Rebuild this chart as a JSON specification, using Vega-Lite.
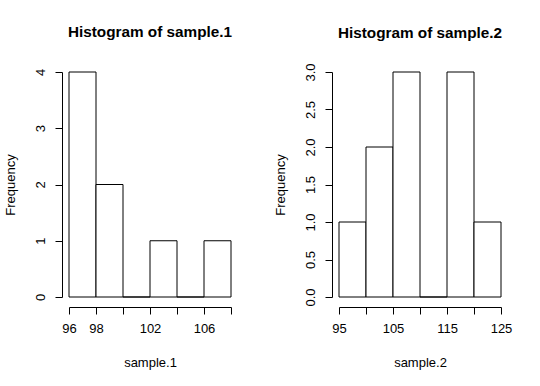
{
  "$schema": "https://vega.github.io/schema/vega-lite/v6.json",
  "padding": {"left": 4, "top": 25, "right": 5, "bottom": 5},
  "background": "white",
  "bounds": "flush",
  "spacing": 108,
  "config": {
    "font": "Liberation Sans",
    "view": {"stroke": null},
    "axis": {
      "grid": false,
      "domainColor": "black",
      "tickColor": "black",
      "labelColor": "black",
      "titleColor": "black",
      "tickSize": 7,
      "labelFontSize": 13,
      "titleFontSize": 13,
      "titleFontWeight": "normal",
      "labelFont": "Liberation Sans",
      "titleFont": "Liberation Sans"
    },
    "title": {"fontSize": 15.3, "fontWeight": "bold", "color": "black", "baseline": "alphabetic", "frame": "group", "anchor": "middle", "font": "Liberation Sans"}
  },
  "datasets": {
    "s1": [
      {"start": 96, "end": 98, "count": 4},
      {"start": 98, "end": 100, "count": 2},
      {"start": 100, "end": 102, "count": 0},
      {"start": 102, "end": 104, "count": 1},
      {"start": 104, "end": 106, "count": 0},
      {"start": 106, "end": 108, "count": 1}
    ],
    "s2": [
      {"start": 95, "end": 100, "count": 1},
      {"start": 100, "end": 105, "count": 2},
      {"start": 105, "end": 110, "count": 3},
      {"start": 110, "end": 115, "count": 0},
      {"start": 115, "end": 120, "count": 3},
      {"start": 120, "end": 125, "count": 1}
    ]
  },
  "hconcat": [
    {
      "title": {"text": "Histogram of sample.1", "offset": 28},
      "width": 162,
      "height": 225,
      "data": {"name": "s1"},
      "mark": {"type": "bar", "fill": "white", "stroke": "black", "strokeWidth": 1},
      "encoding": {
        "x": {
          "field": "start", "type": "quantitative", "title": "sample.1",
          "scale": {"domain": [96, 108], "nice": false, "zero": false},
          "axis": {"values": [96, 98, 100, 102, 104, 106, 108], "offset": 10, "labelPadding": 8, "titlePadding": 21,
                   "labelExpr": "datum.value == 100 || datum.value == 104 || datum.value == 108 ? '' : datum.label",
                   "labelFlush": false, "labelOverlap": false}
        },
        "x2": {"field": "end"},
        "y": {
          "field": "count", "type": "quantitative", "title": "Frequency",
          "scale": {"domain": [0, 4], "nice": false},
          "axis": {"values": [0, 1, 2, 3, 4], "offset": 7, "labelAngle": -90, "labelAlign": "center", "labelBaseline": "bottom", "labelPadding": 8, "titlePadding": 17, "labelFlush": false, "labelOverlap": false}
        },
        "y2": {"datum": 0}
      }
    },
    {
      "title": {"text": "Histogram of sample.2", "offset": 22},
      "width": 162,
      "height": 225,
      "data": {"name": "s2"},
      "mark": {"type": "bar", "fill": "white", "stroke": "black", "strokeWidth": 1},
      "encoding": {
        "x": {
          "field": "start", "type": "quantitative", "title": "sample.2",
          "scale": {"domain": [95, 125], "nice": false, "zero": false},
          "axis": {"values": [95, 100, 105, 110, 115, 120, 125], "offset": 10, "labelPadding": 8, "titlePadding": 21,
                   "labelExpr": "datum.value == 100 || datum.value == 110 || datum.value == 120 ? '' : datum.label",
                   "labelFlush": false, "labelOverlap": false}
        },
        "x2": {"field": "end"},
        "y": {
          "field": "count", "type": "quantitative", "title": "Frequency",
          "scale": {"domain": [0, 3], "nice": false},
          "axis": {"values": [0, 0.5, 1, 1.5, 2, 2.5, 3], "format": ".1f", "offset": 7, "labelAngle": -90, "labelAlign": "center", "labelBaseline": "bottom", "labelPadding": 8, "titlePadding": 17, "labelFlush": false, "labelOverlap": false}
        },
        "y2": {"datum": 0}
      }
    }
  ]
}
